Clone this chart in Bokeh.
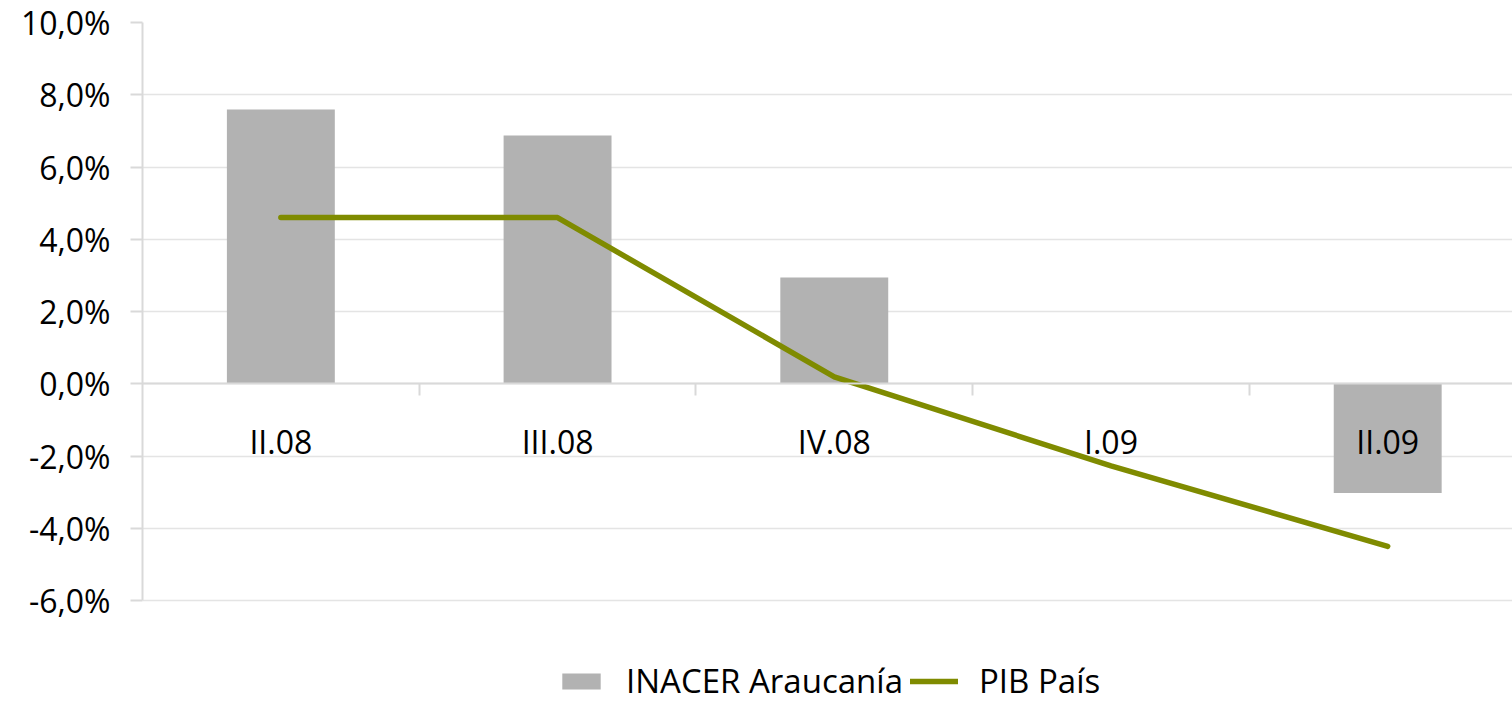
from bokeh.plotting import figure
from bokeh.models import Range1d, FixedTicker, Legend, LegendItem, ColumnDataSource
from bokeh.embed import file_html
from bokeh.resources import INLINE

categories = ["II.08", "III.08", "IV.08", "I.09", "II.09"]
inacer = [7.59, 6.87, 2.94, 0.0, -3.02]
pib = [4.6, 4.6, 0.19, -2.27, -4.5]
y_ticks = [-6, -4, -2, 0, 2, 4, 6, 8, 10]
y_tick_labels = ["-6,0%", "-4,0%", "-2,0%", "0,0%", "2,0%", "4,0%", "6,0%", "8,0%", "10,0%"]

FONT = "Open Sans"
GRID = "#e4e4e4"
AXIS = "#d9d9d9"

xs = [i + 0.5 for i in range(len(categories))]
src = ColumnDataSource(dict(x=xs, inacer=inacer, pib=pib))

p = figure(width=1512, height=703, output_backend="svg", toolbar_location=None,
           x_range=Range1d(0, 4.951), y_range=Range1d(-8.85, 10),
           min_border_left=142, min_border_right=0, min_border_top=22, min_border_bottom=0)
p.outline_line_color = None
p.background_fill_color = "white"

bars = p.vbar(x="x", top="inacer", bottom=0, width=0.39, source=src,
              fill_color="#b2b2b2", line_color=None)
line = p.line(x="x", y="pib", source=src, line_color="#7f8b00", line_width=5.5,
              line_cap="round", line_join="round")

# y axis
yax = p.yaxis[0]
yax.ticker = FixedTicker(ticks=y_ticks)
yax.bounds = (min(y_ticks), max(y_ticks))
yax.major_label_overrides = {float(t): l for t, l in zip(y_ticks, y_tick_labels)}
yax.major_label_text_font = FONT
yax.major_label_text_font_size = "32px"
yax.major_label_text_color = "#000000"
yax.axis_line_color = AXIS
yax.axis_line_width = 2
yax.major_tick_line_color = AXIS
yax.major_tick_line_width = 2
yax.major_tick_out = 12
yax.major_tick_in = 0
yax.minor_tick_line_color = None
yax.major_label_standoff = 20

# x axis at zero
xax = p.xaxis[0]
xax.ticker = FixedTicker(ticks=xs, minor_ticks=[1, 2, 3, 4])
xax.major_label_overrides = {float(x): c for x, c in zip(xs, categories)}
xax.fixed_location = 0
xax.major_label_text_font = FONT
xax.major_label_text_font_size = "32px"
xax.major_label_text_color = "#000000"
xax.axis_line_color = AXIS
xax.axis_line_width = 2
xax.major_tick_line_color = None
xax.major_tick_out = 0
xax.major_tick_in = 0
xax.minor_tick_line_color = AXIS
xax.minor_tick_line_width = 2
xax.minor_tick_out = 12
xax.minor_tick_in = 0
xax.major_label_standoff = 24

p.xgrid.grid_line_color = None
p.ygrid.ticker = FixedTicker(ticks=y_ticks)
p.ygrid.grid_line_color = GRID
p.ygrid.grid_line_width = 1.5

legend = Legend(items=[LegendItem(label="INACER Araucanía", renderers=[bars]),
                       LegendItem(label="PIB País", renderers=[line])],
                orientation="horizontal", location=(415, 0),
                border_line_color=None, background_fill_alpha=0,
                label_text_font=FONT, label_text_font_size="33px",
                label_text_color="#000000",
                glyph_width=48, glyph_height=20, label_standoff=21, spacing=7,
                padding=0, margin=0)
p.add_layout(legend, "center")

open("out.html", "w").write(file_html(p, INLINE))
